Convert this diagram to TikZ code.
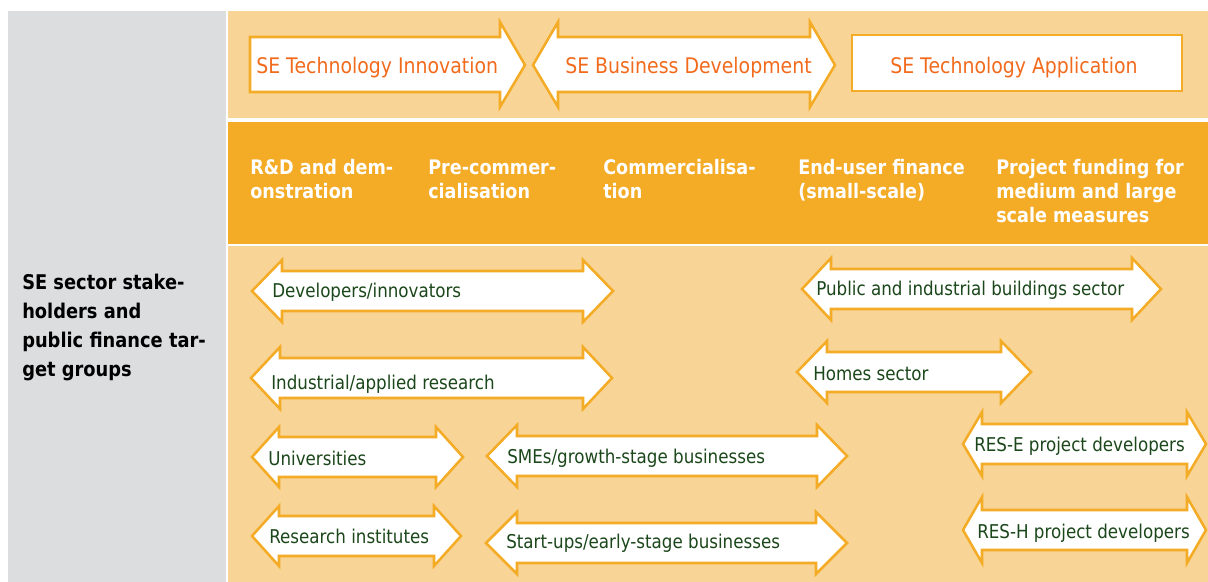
\documentclass[tikz,border=0pt]{standalone}
\usepackage{fontspec}
\setmainfont{DejaVu Sans}[FakeStretch=0.88]
\definecolor{greyp}{HTML}{DCDDDF}
\definecolor{lightb}{HTML}{F8D596}
\definecolor{orng}{HTML}{F4AB26}
\definecolor{redo}{HTML}{F26B1D}
\definecolor{dgreen}{HTML}{1B471B}
\newcommand{\dblarr}[5]{% x1 x2 ycenter headlength headhalf
  \draw[arrshape] (#1,#3) -- (#1+#4,#3-#5) -- (#1+#4,#3-20) -- (#2-#4,#3-20) -- (#2-#4,#3-#5)
    -- (#2,#3) -- (#2-#4,#3+#5) -- (#2-#4,#3+20) -- (#1+#4,#3+20) -- (#1+#4,#3+#5) -- cycle;}
\begin{document}
\begin{tikzpicture}[x=0.75pt,y=-0.75pt,
  arrshape/.style={draw=orng, line width=1.9pt, fill=white, line join=miter},
  toptext/.style={inner sep=0pt, anchor=base west, text=redo, font=\fontsize{16.1}{19}\selectfont},
  headtext/.style={inner sep=0pt, anchor=base west, text=white, align=left, font=\bfseries\fontsize{15}{18}\selectfont},
  sidetext/.style={inner sep=0pt, anchor=base west, text=black, align=left, font=\bfseries\fontsize{15.2}{21.75}\selectfont},
  gtext/.style={inner sep=0pt, anchor=base west, text=dgreen, font=\fontsize{14.25}{17}\selectfont}]
\useasboundingbox (0,0) rectangle (1208,582);
\fill[white] (0,0) rectangle (1208,582);
% bands
\fill[greyp] (8,11) rectangle (226,582);
\fill[lightb] (228,11) rectangle (1208,118);
\fill[orng] (228,122) rectangle (1208,244);
\fill[lightb] (228,246) rectangle (1208,582);
% top arrows
\draw[arrshape] (250,37) -- (500,37) -- (500,22) -- (525,65) -- (500,107) -- (500,92) -- (250,92) -- cycle;
\draw[arrshape] (533,65) -- (558,22) -- (558,37) -- (810,37) -- (810,22) -- (835,65) -- (810,107) -- (810,92) -- (558,92) -- (558,107) -- cycle;
\draw[arrshape] (852,35) rectangle (1182,91);
\node[toptext] (inno) at (256,73) {SE Technology Innovation};
\node[toptext] (busi) at (565,73) {SE Business Development};
\node[toptext] (appl) at (890,73) {SE Technology Application};
% headers (base anchor = last line baseline)
\node[headtext] (h1) at (250,198) {R\&D and dem-\\onstration};
\node[headtext] (h2) at (428,198) {Pre-commer-\\cialisation};
\node[headtext] (h3) at (603,198) {Commercialisa-\\tion};
\node[headtext] (h4) at (798,198) {End-user finance\\(small-scale)};
\node[headtext] (h5) at (996,222) {Project funding for\\medium and large\\scale measures};
% side
\node[sidetext] (side) at (22,376) {SE sector stake-\\holders and\\public finance tar-\\get groups};
% double arrows
\dblarr{252}{613}{291}{30}{31}
\dblarr{251}{612}{378}{29}{31}
\dblarr{252}{463}{457}{27}{30}
\dblarr{252}{461}{536}{27}{30}
\dblarr{487}{847}{456}{30}{31}
\dblarr{486}{847}{543}{31}{31}
\dblarr{802}{1161}{289}{29}{31}
\dblarr{797}{1031}{372}{30}{31}
\dblarr{963}{1206}{444}{19}{32}
\dblarr{963}{1206}{530}{19}{33}
\node[gtext] (dev) at (272,297) {Developers/innovators};
\node[gtext] (ind) at (271,389) {Industrial/applied research};
\node[gtext] (uni) at (268,465) {Universities};
\node[gtext] (ri) at (269,543) {Research institutes};
\node[gtext] (sme) at (507,463) {SMEs/growth-stage businesses};
\node[gtext] (start) at (506,548) {Start-ups/early-stage businesses};
\node[gtext] (pub) at (816,295) {Public and industrial buildings sector};
\node[gtext] (home) at (813,380) {Homes sector};
\node[gtext] (rese) at (974,451) {RES-E project developers};
\node[gtext] (resh) at (977,538) {RES-H project developers};
\end{tikzpicture}
\end{document}
